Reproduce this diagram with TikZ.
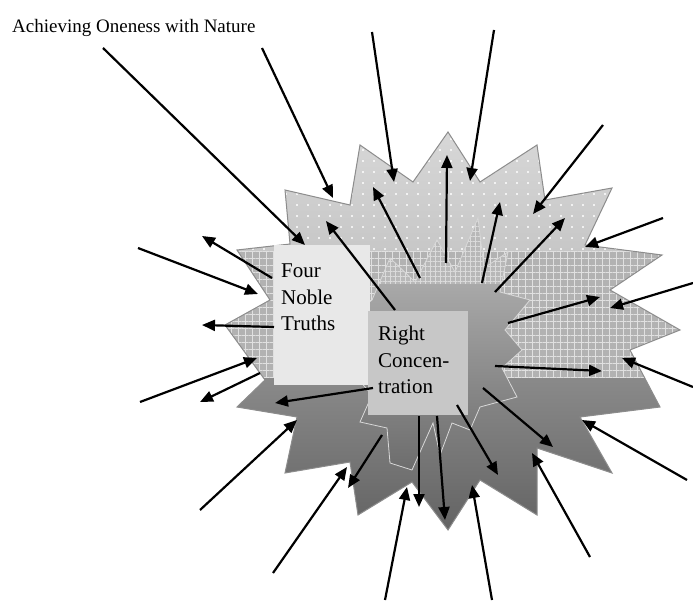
\documentclass[tikz,border=0pt]{standalone}
\usepackage{fontspec}
\setmainfont{Liberation Serif}
\usepackage{tikz}
\usetikzlibrary{arrows.meta}
\usetikzlibrary{patterns.meta}

\begin{document}
\begin{tikzpicture}[x=1pt,y=-1pt]
\useasboundingbox (0,0) rectangle (693,601);
% the burst
\def\burst{(237,250) -- (290,244) -- (285,190) -- (350,205) -- (360,145) -- (413,182)
    -- (448,132) -- (480,182) -- (537,145) -- (545,200) -- (612,188) -- (585,245)
    -- (662,255) -- (610,290) -- (680,330) -- (630,350) -- (660,407) -- (580,417)
    -- (612,473) -- (537,448) -- (537,515) -- (480,480) -- (448,530) -- (412,482)
    -- (358,515) -- (350,462) -- (285,473) -- (297,417) -- (237,407) -- (265,380)
    -- (225,325) -- (270,300) -- cycle}
\def\innerburst{(372,300) -- (390,258) -- (415,282) -- (437,240) -- (455,272) -- (478,218)
    -- (484,268) -- (508,252) -- (500,292) -- (530,300) -- (505,330) -- (522,350)
    -- (502,368) -- (517,397) -- (480,407) -- (470,430) -- (452,423) -- (440,455)
    -- (433,423) -- (412,470) -- (390,463) -- (387,428) -- (360,422) -- (372,395)
    -- (352,372) -- (366,340) -- (350,318) -- cycle}
\begin{scope}
    \clip \burst;
    \shade[top color=black!15, bottom color=black!22] (200,120) rectangle (700,252);
    \fill[pattern={Dots[distance=11pt,radius=1.1pt]}, pattern color=white] (200,120) rectangle (700,252);
    \fill[black!30] (200,252) rectangle (700,378);
    \fill[pattern={Hatch[distance=7pt,line width=0.6pt]}, pattern color=black!12] (200,252) rectangle (700,378);
    \shade[top color=black!46, bottom color=black!62] (200,378) rectangle (700,540);
\end{scope}
\draw[black!45, line width=1pt] \burst;
% inner burst
\begin{scope}
    \clip \innerburst;
    \fill[black!28] (340,210) rectangle (540,285);
    \fill[pattern={Hatch[distance=5pt,line width=0.5pt]}, pattern color=black!14] (340,210) rectangle (540,285);
    \shade[top color=black!34, bottom color=black!58] (340,285) rectangle (540,475);
\end{scope}
\draw[black!15, line width=0.8pt] \innerburst;

\begin{scope}[every node/.style={inner sep=0pt, font=\fontsize{21}{26.5}\selectfont, align=left}]
    \node[anchor=base west, font=\fontsize{19}{22}\selectfont] (title) at (12,33) {Achieving Oneness with Nature};
    \node[fill=black!9, minimum width=96, minimum height=140, anchor=north west] (four) at (274,245) {};
    \node[fill=black!22, minimum width=100, minimum height=104, anchor=north west] (right) at (368,311) {};
    \node[anchor=north west] (fourtext) at (281,264) {Four\\Noble\\Truths};
    \node[anchor=north west] (righttext) at (378,326) {Right\\Concen-\\tration};
\end{scope}

% ends of the rays
\coordinate (a1) at (103,48);   \coordinate (a1t) at (305,245);
\coordinate (a2) at (262,48);   \coordinate (a2t) at (333,198);
\coordinate (a3) at (372,32);   \coordinate (a3t) at (394,182);
\coordinate (a4) at (494,30);   \coordinate (a4t) at (470,181);
\coordinate (a5) at (603,125);  \coordinate (a5t) at (533,214);
\coordinate (a6) at (663,218);  \coordinate (a6t) at (585,247);
\coordinate (a7) at (693,283);  \coordinate (a7t) at (610,308);
\coordinate (a8) at (693,387);  \coordinate (a8t) at (622,358);
\coordinate (a9) at (687,480);  \coordinate (a9t) at (582,420);
\coordinate (a10) at (590,557); \coordinate (a10t) at (532,453);
\coordinate (a11) at (492,600); \coordinate (a11t) at (472,485);
\coordinate (a12) at (385,600); \coordinate (a12t) at (407,487);
\coordinate (a13) at (273,573); \coordinate (a13t) at (347,467);
\coordinate (a14) at (200,510); \coordinate (a14t) at (297,420);
\coordinate (a15) at (140,402); \coordinate (a15t) at (257,358);
\coordinate (a16) at (138,248); \coordinate (a16t) at (258,294);

\coordinate (b1) at (272,278);  \coordinate (b1t) at (202,236);
\coordinate (b2) at (274,327);  \coordinate (b2t) at (202,325);
\coordinate (b3) at (260,373);  \coordinate (b3t) at (200,402);
\coordinate (b4) at (373,388);  \coordinate (b4t) at (275,403);
\coordinate (b5) at (382,435);  \coordinate (b5t) at (348,488);
\coordinate (b6) at (419,416);  \coordinate (b6t) at (419,507);
\coordinate (b7) at (437,416);  \coordinate (b7t) at (445,520);
\coordinate (b8) at (457,405);  \coordinate (b8t) at (498,475);
\coordinate (b9) at (483,388);  \coordinate (b9t) at (553,447);
\coordinate (b10) at (495,366); \coordinate (b10t) at (602,371);
\coordinate (b11) at (508,323); \coordinate (b11t) at (600,297);
\coordinate (b12) at (495,292); \coordinate (b12t) at (565,218);
\coordinate (b13) at (482,283); \coordinate (b13t) at (500,202);
\coordinate (b14) at (446,263); \coordinate (b14t) at (447,155);
\coordinate (b15) at (420,278); \coordinate (b15t) at (373,187);
\coordinate (b16) at (395,310); \coordinate (b16t) at (326,221);

\begin{scope}[>={Triangle[length=13pt,width=11pt]},
              ray/.style={draw=black,line width=2.2pt}]
    % coming in
    \path [->] (a1) edge [ray] (a1t);
    \path [->] (a2) edge [ray] (a2t);
    \path [->] (a3) edge [ray] (a3t);
    \path [->] (a4) edge [ray] (a4t);
    \path [->] (a5) edge [ray] (a5t);
    \path [->] (a6) edge [ray] (a6t);
    \path [->] (a7) edge [ray] (a7t);
    \path [->] (a8) edge [ray] (a8t);
    \path [->] (a9) edge [ray] (a9t);
    \path [->] (a10) edge [ray] (a10t);
    \path [->] (a11) edge [ray] (a11t);
    \path [->] (a12) edge [ray] (a12t);
    \path [->] (a13) edge [ray] (a13t);
    \path [->] (a14) edge [ray] (a14t);
    \path [->] (a15) edge [ray] (a15t);
    \path [->] (a16) edge [ray] (a16t);
    % going out
    \path [->] (b1) edge [ray] (b1t);
    \path [->] (b2) edge [ray] (b2t);
    \path [->] (b3) edge [ray] (b3t);
    \path [->] (b4) edge [ray] (b4t);
    \path [->] (b5) edge [ray] (b5t);
    \path [->] (b6) edge [ray] (b6t);
    \path [->] (b7) edge [ray] (b7t);
    \path [->] (b8) edge [ray] (b8t);
    \path [->] (b9) edge [ray] (b9t);
    \path [->] (b10) edge [ray] (b10t);
    \path [->] (b11) edge [ray] (b11t);
    \path [->] (b12) edge [ray] (b12t);
    \path [->] (b13) edge [ray] (b13t);
    \path [->] (b14) edge [ray] (b14t);
    \path [->] (b15) edge [ray] (b15t);
    \path [->] (b16) edge [ray] (b16t);
\end{scope}
\end{tikzpicture}
\end{document}
